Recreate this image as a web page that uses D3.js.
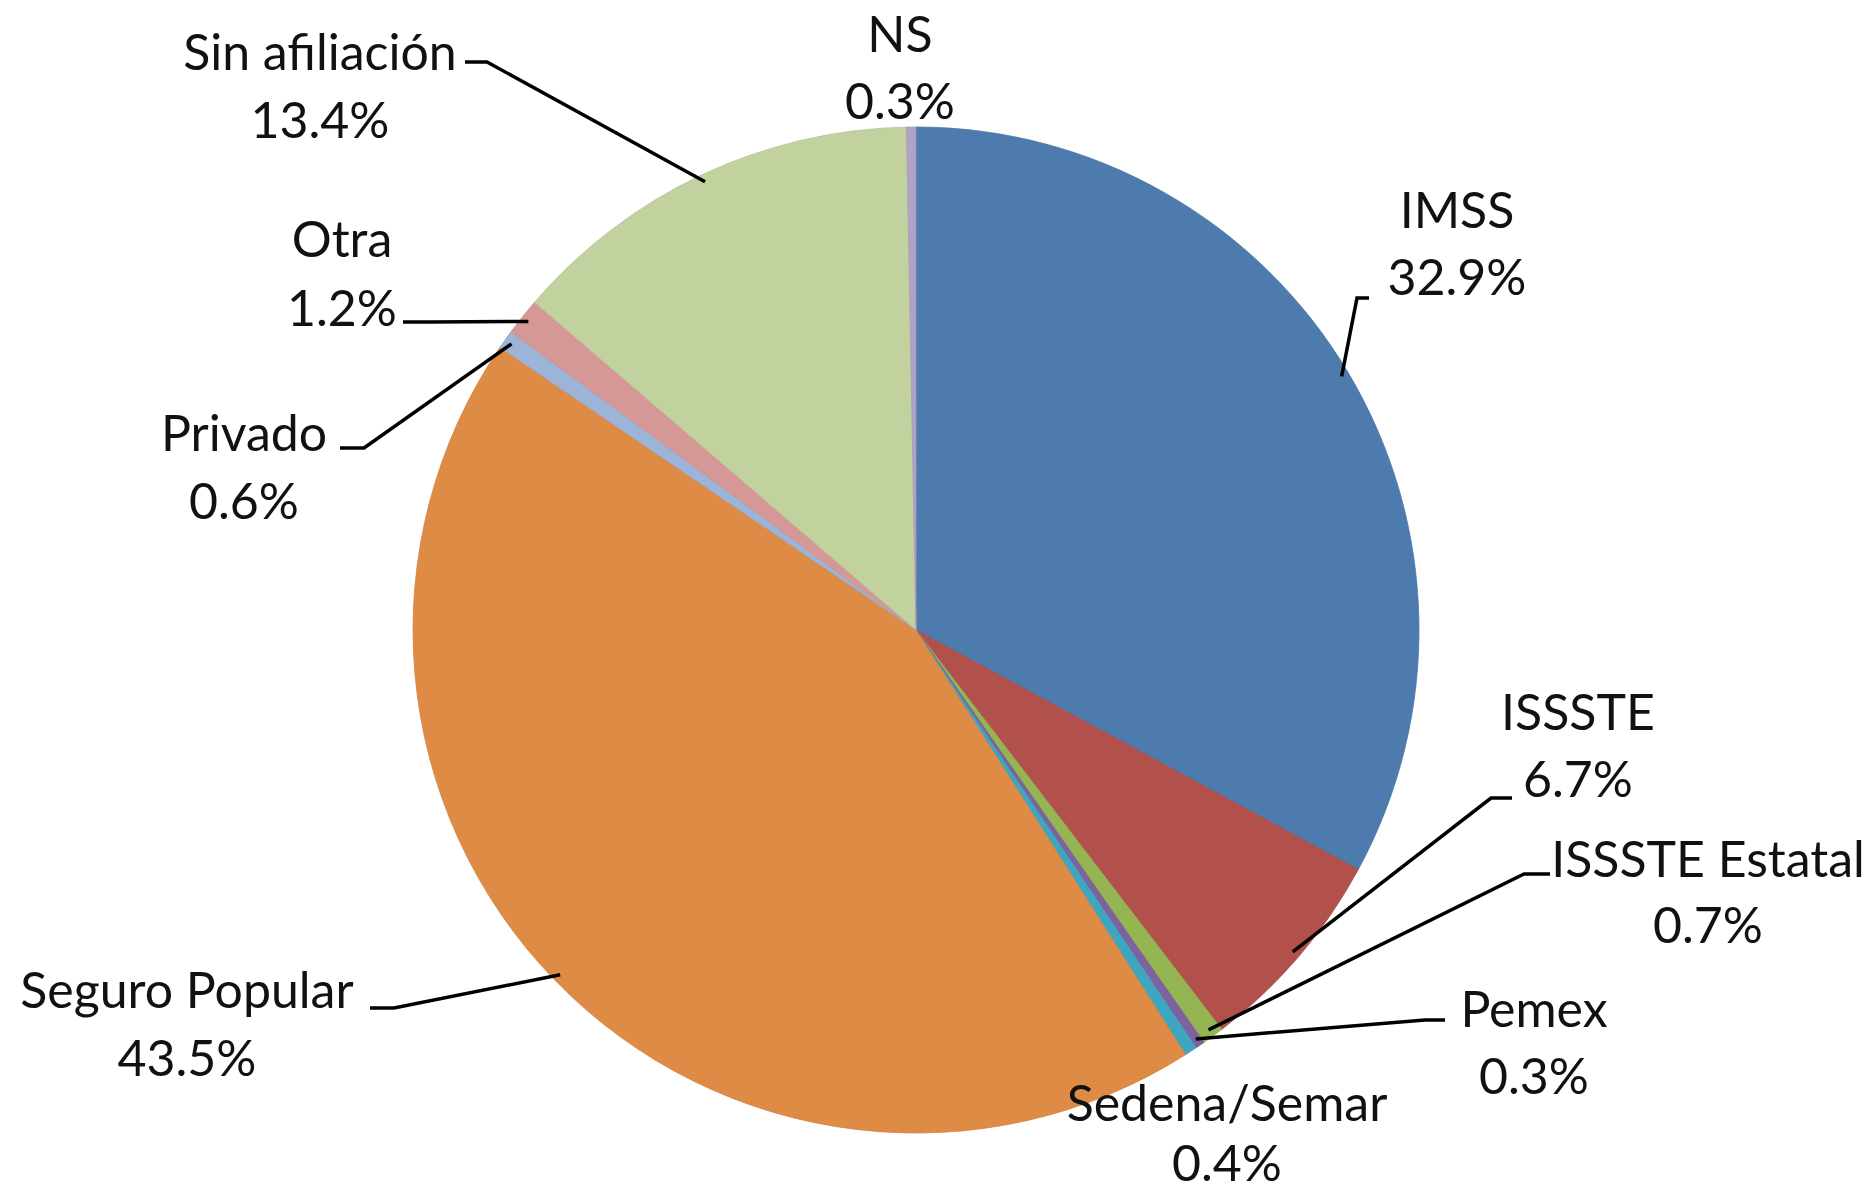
<!DOCTYPE html>
<html>
<head>
<meta charset="utf-8">
<script src="https://cdn.jsdelivr.net/npm/d3@7"></script>
<style>
html,body{margin:0;padding:0;background:#fff;}
svg{display:block;}
text{font-family:Lato,"Open Sans",sans-serif;fill:#111;}
</style>
</head>
<body>
<svg id="chart" width="1870" height="1198"></svg>
<script>
// ---- data ----
const categories = ["IMSS","ISSSTE","ISSSTE Estatal","Pemex","Sedena/Semar","Seguro Popular","Privado","Otra","Sin afiliación","NS"];
const values = [32.9, 6.7, 0.7, 0.3, 0.4, 43.5, 0.6, 1.2, 13.4, 0.3];
const valueLabels = ["32.9%","6.7%","0.7%","0.3%","0.4%","43.5%","0.6%","1.2%","13.4%","0.3%"];

// ---- styles / layout (separate from data) ----
const colors = ["#4E7BAE","#B2504C","#95B553","#7E62A0","#3FA6C0","#DE8B46","#9BB4D8","#D69896","#C1D29F","#B2A3C6"];
const W = 1870, H = 1198;
const cx = 916, cy = 630, R = 503;
// label placement: text centre x, centres of both lines, leader stub [xFromText, xToPie, y]
const labelLayout = [
  {x:1457, y1:210, y2:277, stub:[1369,1357,298]},
  {x:1578, y1:712, y2:779, stub:[1512,1491,798]},
  {x:1708, y1:859, y2:925, stub:[1550,1524,874]},
  {x:1534, y1:1009, y2:1076, stub:[1445,1425,1020]},
  {x:1227, y1:1103, y2:1163, stub:null},
  {x:187, y1:990, y2:1058, stub:[370,394,1008]},
  {x:244, y1:433, y2:501, stub:[340,364,448]},
  {x:342, y1:239, y2:308, stub:[403,430,322]},
  {x:320, y1:52, y2:120, stub:[465,487,62]},
  {x:900, y1:34, y2:101, stub:null}
];
const fontSize = 50;

const svg = d3.select("#chart");
svg.append("rect").attr("width",W).attr("height",H).attr("fill","#fff");

const pie = d3.pie().sort(null).value(d => d)(values);
const arc = d3.arc().innerRadius(0).outerRadius(R);
const edge = d3.arc().innerRadius(R*0.985).outerRadius(R*0.985);

const g = svg.append("g").attr("transform",`translate(${cx},${cy})`);
g.selectAll("path.slice").data(pie).enter().append("path")
  .attr("class","slice")
  .attr("d",arc)
  .attr("fill",(d,i)=>colors[i])
  .attr("stroke",(d,i)=>d3.color(colors[i]).darker(0.15))
  .attr("stroke-width",0.8);

// leader lines
const lines = svg.append("g");
pie.forEach((d,i)=>{
  const L = labelLayout[i];
  if(!L.stub) return;
  const c = edge.centroid(d);
  const px = cx + c[0], py = cy + c[1];
  lines.append("path")
    .attr("d", d3.line()([[L.stub[0],L.stub[2]],[L.stub[1],L.stub[2]],[px,py]]))
    .attr("fill","none").attr("stroke","#000").attr("stroke-width",3.5);
});

// labels
const labels = svg.append("g");
categories.forEach((name,i)=>{
  const L = labelLayout[i];
  labels.append("text").attr("text-anchor","middle").attr("font-size",fontSize)
    .attr("x",L.x).attr("y",L.y1).attr("dy","0.36em").text(name);
  labels.append("text").attr("text-anchor","middle").attr("font-size",fontSize)
    .attr("x",L.x).attr("y",L.y2).attr("dy","0.36em").text(valueLabels[i]);
});
</script>
</body>
</html>
